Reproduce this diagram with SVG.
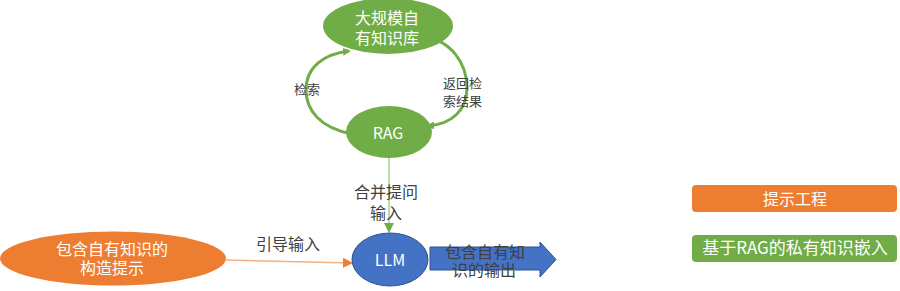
<svg xmlns="http://www.w3.org/2000/svg" width="900" height="291" viewBox="0 0 900 291">
<style>
text{font-family:"Noto Sans CJK SC","Noto Sans",sans-serif;text-anchor:middle}
.w{fill:#ffffff;font-size:16px}
.d{fill:#404040;font-size:16px}
.s{fill:#404040;font-size:13px}
.arc{fill:none;stroke:#70AD47;stroke-width:3}
</style>
<defs>
<marker id="ag" markerWidth="8" markerHeight="8" refX="6" refY="4" orient="auto" markerUnits="userSpaceOnUse"><path d="M0,0 L8,4 L0,8 Z" fill="#70AD47"/></marker>
<marker id="ag2" markerWidth="10" markerHeight="10" refX="9" refY="5" orient="auto" markerUnits="userSpaceOnUse"><path d="M0,0 L10,5 L0,10 Z" fill="#70AD47"/></marker>
<marker id="ao" markerWidth="10" markerHeight="10" refX="9" refY="5" orient="auto" markerUnits="userSpaceOnUse"><path d="M0,0 L10,5 L0,10 Z" fill="#ED7D31"/></marker>
</defs>
<g id="connectors">
<path class="arc" d="M352,134 C320,128 306,110 306,90 C306,66 325,54 349,51" marker-end="url(#ag)"/>
<path class="arc" d="M420,35 C452,40 467,64 467,88 C467,110 452,124 428,126" marker-end="url(#ag)"/>
<line x1="389" y1="156" x2="389" y2="232" stroke="#A9D18E" stroke-width="1.5" marker-end="url(#ag2)"/>
<line x1="226" y1="260" x2="352" y2="263" stroke="#F4B183" stroke-width="1.5" marker-end="url(#ao)"/>
</g>
<g id="kb">
<ellipse cx="388" cy="26" rx="65" ry="28" fill="#70AD47"/>
<text class="w" x="387" y="24">大规模自</text>
<text class="w" x="387" y="44">有知识库</text>
</g>
<g id="rag">
<ellipse cx="389" cy="132" rx="43" ry="26" fill="#70AD47"/>
<text class="w" x="388" y="139">RAG</text>
</g>
<g id="labels">
<text class="s" x="307" y="94">检索</text>
<text class="s" x="443" y="88" style="text-anchor:start">返回检</text>
<text class="s" x="443" y="106" style="text-anchor:start">索结果</text>
<text class="d" x="386" y="198">合并提问</text>
<text class="d" x="386" y="219">输入</text>
<text class="d" x="288" y="250">引导输入</text>
</g>
<g id="prompt">
<ellipse cx="113" cy="258.5" rx="113" ry="27" fill="#ED7D31"/>
<text class="w" x="112" y="255">包含自有知识的</text>
<text class="w" x="112" y="274">构造提示</text>
</g>
<g id="llm">
<ellipse cx="390" cy="259.5" rx="38" ry="26.5" fill="#4472C4" stroke="#2F528F" stroke-width="1"/>
<text class="w" x="390" y="266">LLM</text>
</g>
<g id="output">
<polygon points="430,247 540,247 540,242 556,259.5 540,277 540,270 430,270" fill="#4472C4" stroke="#2F528F" stroke-width="1"/>
<text class="d" x="485" y="258">包含自有知</text>
<text class="d" x="484" y="276">识的输出</text>
</g>
<g id="legend-prompt">
<rect x="692" y="185" width="205" height="27" rx="4" fill="#ED7D31"/>
<text class="w" x="795" y="205">提示工程</text>
</g>
<g id="legend-rag">
<rect x="692" y="235" width="205" height="27" rx="4" fill="#70AD47"/>
<text class="w" x="795" y="254" style="font-size:17px">基于RAG的私有知识嵌入</text>
</g>
</svg>
